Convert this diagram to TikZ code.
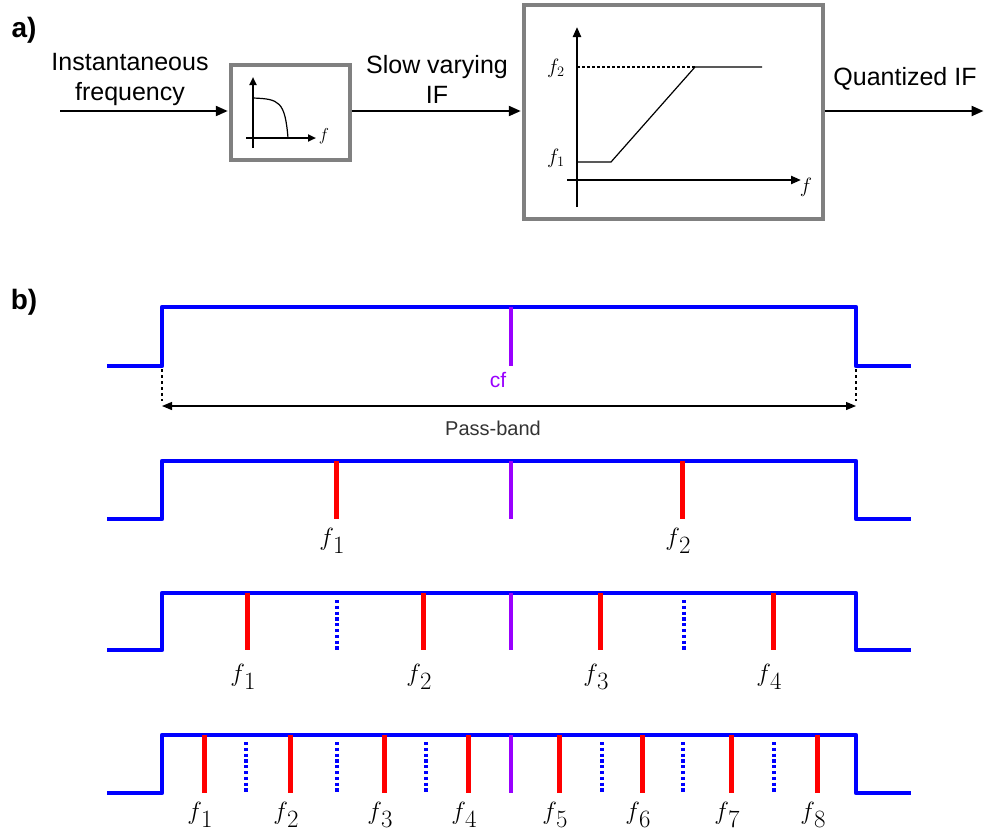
\documentclass[tikz,border=0pt]{standalone}
\usepackage[no-math]{fontspec}
\setmainfont{Liberation Sans}
\usetikzlibrary{arrows.meta}
\definecolor{pur}{RGB}{153,0,255}
\definecolor{boxgray}{RGB}{128,128,128}
\newcommand\fsub[1]{$f$\kern-1pt\raisebox{-8pt}{\fontsize{28}{28}\selectfont$#1$}}
\begin{document}
\begin{tikzpicture}[x=1pt,y=-1pt,
 lbl/.style={font=\fontsize{25}{30}\selectfont, align=center, inner sep=0},
 panel/.style={font=\bfseries\fontsize{28}{28}\selectfont, inner sep=0},
 blk/.style={draw=boxgray, line width=3.5pt, inner sep=0, fill=white},
 sig/.style={line width=2.2pt, -{Triangle[length=12pt,width=10pt]}, shorten >=1.5pt},
 axisline/.style={line width=2.2pt, -{Triangle[length=10pt,width=8pt]}},
 thinc/.style={line width=1.2pt},
 mlbl/.style={inner sep=0, font=\fontsize{21}{21}\selectfont},
 band/.style={blue, line width=4.5pt, line join=round},
 tone/.style={red, line width=5pt},
 cline/.style={pur, line width=3.5pt},
 guard/.style={blue, line width=3.5pt, dash pattern=on 3.2pt off 2.6pt},
 flbl/.style={inner sep=0, font=\fontsize{40}{40}\selectfont},
 edge/.style={line width=1.2pt, dash pattern=on 3pt off 3pt}
]
\useasboundingbox (0,0) rectangle (985,836);

% ---------- panel a ----------
\node[panel] (pa) at (24,30) {a)};
\node[blk, minimum width=119pt, minimum height=95pt] (lpf) at (290.5,112.5) {};
\node[blk, minimum width=299pt, minimum height=214pt] (quant) at (673.5,112) {};
\coordinate (in) at (60,111);
\coordinate (out) at (985,111);
\draw[sig] (in) -- (in -| lpf.west);
\draw[sig] (in -| lpf.east) -- (in -| quant.west);
\draw[sig] (in -| quant.east) -- (out);
\node[lbl] (tin) at (130,79) {Instantaneous\\frequency};
\node[lbl] (tslow) at (437,79) {Slow varying\\IF};
\node[lbl] (tq) at (905,79) {Quantized IF};

% low-pass sketch
\coordinate (lo1) at (253,148);
\coordinate (lo2) at (253,77);
\coordinate (lh1) at (246,138);
\coordinate (lh2) at (316,138);
\draw[line width=2pt, -{Triangle[length=8pt,width=7pt]}] (lo1) -- (lo2);
\draw[line width=2pt, -{Triangle[length=8pt,width=7pt]}] (lh1) -- (lh2);
\node[inner sep=0, font=\fontsize{17}{17}\selectfont] (lf) at (324,136) {$f$};
\draw[thinc] (253,98) .. controls (279,99) and (285,101) .. (288,138);

% quantizer sketch
\coordinate (qv1) at (577,207);
\coordinate (qv2) at (577,27);
\coordinate (qh1) at (567,180);
\coordinate (qh2) at (801,180);
\draw[axisline] (qv1) -- (qv2);
\draw[axisline] (qh1) -- (qh2);
\node[mlbl] (qf) at (806,187) {$f$};
\node[mlbl] (qf2) at (556,68) {$f_2$};
\node[mlbl] (qf1) at (556,158) {$f_1$};
\coordinate (k1) at (577,162);
\coordinate (k2) at (611,162);
\coordinate (k3) at (695,67);
\coordinate (k4) at (762,67);
\draw[thinc, dash pattern=on 3pt off 2pt] (qv1 |- k3) -- (k3);
\draw[thinc] (k1) -- (k2) -- (k3) -- (k4);

% ---------- panel b ----------
\node[panel] (pb) at (24,302) {b)};

% row 1
\draw[band] (107,366) -- (162,366) -- (162,307) -- (856,307) -- (856,366) -- (911,366);
\draw[cline] (511,307) -- (511,366);
\node[inner sep=0, text=pur, font=\fontsize{21}{21}\selectfont] (cf) at (498,380) {cf};
\coordinate (pl) at (162,406);
\coordinate (pr) at (856,406);
\draw[edge] (162,369) -- (162,401);
\draw[edge] (856,369) -- (856,401);
\draw[line width=1.2pt, {Triangle[length=10pt,width=8pt]}-{Triangle[length=10pt,width=8pt]}] (pl) -- (pr);
\node[inner sep=0, text=black!80, font=\fontsize{20}{20}\selectfont] (pband) at (493,428) {Pass-band};

% row 2
\draw[band] (107,519) -- (162,519) -- (162,461) -- (856,461) -- (856,519) -- (911,519);
\draw[cline] (511,461) -- (511,519);
\foreach \x in {336,682} \draw[tone] (\x,461) -- (\x,519);
\node[flbl] (r2f1) at (332,541) {\fsub{1}};
\node[flbl] (r2f2) at (678,541) {\fsub{2}};

% row 3
\draw[band] (107,650) -- (162,650) -- (162,593) -- (856,593) -- (856,650) -- (911,650);
\draw[cline] (511,593) -- (511,650);
\foreach \x in {247,423,600,773} \draw[tone] (\x,593) -- (\x,650);
\foreach \x in {337,684} \draw[guard] (\x,600) -- (\x,650);
\foreach \x/\n in {247/1,423/2,600/3,773/4}
  \node[flbl] (r3f\n) at (\x-4,677) {\fsub{\n}};

% row 4
\draw[band] (107,793) -- (162,793) -- (162,735) -- (856,735) -- (856,793) -- (911,793);
\draw[cline] (511,735) -- (511,793);
\foreach \x in {204,290,384,468,559,642,731,817} \draw[tone] (\x,735) -- (\x,793);
\foreach \x in {246,337,426,602,683,774} \draw[guard] (\x,742) -- (\x,793);
\foreach \x/\n in {204/1,290/2,384/3,468/4,559/5,642/6,731/7,817/8}
  \node[flbl] (r4f\n) at (\x-4,815) {\fsub{\n}};
\end{tikzpicture}
\end{document}
